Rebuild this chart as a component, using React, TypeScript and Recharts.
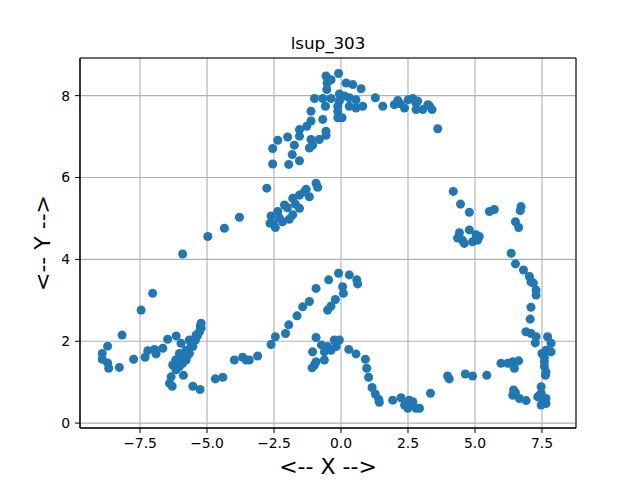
import { ScatterChart, Scatter, XAxis, YAxis, ZAxis, CartesianGrid, ReferenceArea } from 'recharts';

const title = 'lsup_303';
const xTicks = [-7.5, -5, -2.5, 0, 2.5, 5, 7.5];
const yTicks = [0, 2, 4, 6, 8];

// points, grouped by where they sit
const topCluster: [number, number][] = [
  [-0.56, 8.48], [-0.09, 8.54], [-0.52, 8.31], [-0.37, 8.39], [0.19, 8.31], [0.44, 8.27], [0.75, 8.17],
  [-0.53, 8.15], [-0.99, 7.93], [-0.68, 7.93], [-0.37, 7.93], [-0.06, 8.04], [0.13, 7.99], [0.31, 7.95],
  [0.56, 7.9], [-0.06, 7.87], [-0.12, 7.74], [0.31, 7.74], [0.81, 7.74], [0.56, 7.7], [-0.58, 7.74],
  [-0.12, 7.62], [-0.12, 7.46], [0.04, 7.46], [1.28, 7.95], [1.56, 7.74], [1.99, 7.78], [2.12, 7.88],
  [2.37, 7.7], [2.68, 7.93], [2.8, 7.82], [2.86, 7.87], [2.8, 7.66], [3.05, 7.66], [3.24, 7.78],
  [3.4, 7.66], [3.61, 7.19], [2.22, 7.8], [2.51, 7.9], [3.3, 7.75],
];

const upperArm: [number, number][] = [
  [-1.12, 7.62], [-0.68, 7.42], [-1.12, 7.38], [-1.28, 7.25], [-1.55, 7.17], [-1.55, 7.01], [-0.56, 7.13],
  [-0.56, 7.03], [-0.81, 6.93], [-1.12, 6.93], [-1.06, 6.79], [-1.18, 6.72], [-1.74, 6.79], [-1.99, 6.99],
  [-2.36, 6.91], [-2.55, 6.71], [-1.82, 6.56], [-1.55, 6.41], [-1.95, 6.32], [-2.55, 6.33], [-2.77, 5.74],
  [-0.93, 5.86], [-0.87, 5.76], [-1.3, 5.71], [-1.18, 5.53], [-1.55, 5.57], [-1.8, 5.49], [-2.11, 5.33],
  [-1.55, 5.25], [-1.8, 5.09], [-2.36, 5.17], [-2.61, 5.06], [-1.93, 4.98], [-2.18, 4.92], [-2.65, 4.88],
  [-2.45, 4.78], [-2.0, 5.26], [-1.7, 5.35], [-1.37, 5.65], [-2.3, 5.01], [-2.52, 4.87],
];

const leftDiagonal: [number, number][] = [
  [-3.79, 5.03], [-4.35, 4.76], [-4.97, 4.56], [-5.91, 4.13], [-7.03, 3.17], [-7.46, 2.76],
];

const lowerLeft: [number, number][] = [
  [-8.17, 2.15], [-8.71, 1.88], [-8.91, 1.7], [-8.91, 1.56], [-8.71, 1.47], [-8.67, 1.34], [-8.27, 1.36],
  [-7.74, 1.56], [-7.31, 1.61], [-7.21, 1.77], [-6.96, 1.8], [-6.9, 1.69], [-6.65, 1.83], [-6.47, 2.05],
  [-6.15, 2.13], [-5.97, 1.95], [-5.66, 2.03], [-5.41, 2.15], [-5.22, 2.44], [-5.22, 2.32], [-5.28, 2.23],
  [-5.53, 1.87], [-5.66, 1.7], [-5.78, 1.54], [-5.91, 1.46], [-6.03, 1.38], [-6.16, 1.3], [-6.28, 1.42],
  [-6.34, 1.13], [-6.4, 0.97], [-6.3, 0.9], [-5.88, 1.17], [-5.53, 0.9], [-5.26, 0.82], [-6.03, 1.7],
  [-5.78, 1.78], [-4.69, 1.08], [-4.41, 1.12], [-3.98, 1.54], [-3.67, 1.61], [-3.54, 1.54],
  [-5.43, 2.03], [-5.36, 2.13], [-5.25, 2.37], [-5.72, 1.66], [-5.91, 1.59], [-6.17, 1.54], [-5.59, 1.93],
];

const lowerArc: [number, number][] = [
  [-3.42, 1.54], [-3.11, 1.64], [-2.61, 1.92], [-2.45, 2.11], [-2.07, 2.19], [-1.95, 2.4], [-1.64, 2.62],
  [-1.43, 2.84], [-1.18, 2.97], [-0.93, 3.29], [-0.46, 3.5], [-0.09, 3.66], [0.31, 3.62], [0.59, 3.5],
  [0.62, 3.4], [0.06, 3.33], [0.09, 3.17], [-0.21, 3.02], [-0.37, 2.86], [-0.5, 2.76],
];

const middleDip: [number, number][] = [
  [-0.93, 2.09], [-1.06, 1.74], [-0.62, 1.74], [-0.5, 1.87], [-0.25, 2.03], [-0.18, 1.87], [-0.37, 1.78],
  [-0.93, 1.5], [-1.08, 1.35], [-0.62, 1.54], [0.29, 1.8], [0.56, 1.69], [0.91, 1.56], [0.96, 1.34],
  [1.03, 1.12], [1.16, 0.87], [1.28, 0.71], [1.41, 0.58], [1.93, 0.56], [2.24, 0.62], [2.37, 0.44],
  [2.49, 0.36], [2.68, 0.52], [2.8, 0.36], [2.55, 0.56], [2.68, 0.44], [2.93, 0.36], [3.34, 0.73],
  [-0.73, 1.91], [-0.06, 2.03], [-0.99, 1.42], [1.43, 0.51],
];

const rightLower: [number, number][] = [
  [3.98, 1.15], [4.04, 1.08], [4.64, 1.2], [4.91, 1.15], [5.44, 1.17], [5.97, 1.46], [6.22, 1.46],
  [6.41, 1.5], [6.63, 1.52], [6.47, 1.34], [6.44, 0.81], [6.41, 0.68], [6.66, 0.6], [6.91, 0.55],
  [7.47, 0.89], [7.47, 0.73], [7.34, 0.64], [7.53, 0.56], [7.65, 0.6], [7.47, 0.44], [7.65, 0.48],
  [7.59, 1.5], [7.59, 1.38], [7.65, 1.25], [7.63, 1.17], [7.5, 1.7], [7.65, 1.78], [7.84, 1.74],
  [7.84, 1.95], [7.71, 2.11], [7.25, 1.96], [7.28, 2.11], [7.09, 2.19], [6.9, 2.23], [7.06, 2.54],
  [7.09, 2.83], [7.59, 1.61], [7.41, 0.68], [6.51, 0.74],
];

const rightMiddle: [number, number][] = [
  [4.19, 5.66], [4.46, 5.35], [4.79, 5.15], [5.54, 5.17], [5.72, 5.22], [6.72, 5.29], [6.69, 5.19],
  [6.51, 4.92], [6.63, 4.78], [4.42, 4.65], [4.53, 4.47], [4.79, 4.72], [5.04, 4.6], [5.16, 4.56],
  [4.91, 4.43], [4.35, 4.52], [4.6, 4.39], [5.1, 4.47], [6.35, 4.15], [6.51, 3.89], [6.81, 3.74],
  [7.03, 3.58], [7.09, 3.45], [7.18, 3.42], [7.28, 3.25], [7.28, 3.13],
];

const points = [
  ...topCluster, ...upperArm, ...leftDiagonal, ...lowerLeft,
  ...lowerArc, ...middleDip, ...rightLower, ...rightMiddle,
].map(([x, y]) => ({ x, y }));

const xDomain: [number, number] = [-9.74, 8.77];
const yDomain: [number, number] = [-0.12, 8.92];

const fmtX = (v: number) => (v < 0 ? '\u2212' : '') + Math.abs(v).toFixed(1);
const fmtY = (v: number) => (v < 0 ? '\u2212' : '') + Math.abs(v).toFixed(0);

const tickStyle = { fontSize: 13.9, fill: '#000', fontFamily: 'DejaVu Sans' };

export default function App() {
  return (
    <div style={{ position: 'absolute', left: 0, top: 0, width: 640, height: 480, background: '#fff' }}>
      <ScatterChart
        width={640}
        height={480}
        margin={{ top: 58, right: 64, bottom: 22, left: 0 }}
        style={{ fontFamily: 'DejaVu Sans' }}
      >
        <CartesianGrid stroke="#b0b0b0" strokeWidth={1.1} />
        <XAxis
          type="number"
          dataKey="x"
          domain={xDomain}
          ticks={xTicks}
          allowDataOverflow
          height={30}
          tickFormatter={fmtX}
          tick={tickStyle}
          tickSize={5}
          tickMargin={5}
          stroke="#000"
          label={{ value: '<-- X -->', position: 'bottom', offset: 0, fontSize: 22, fill: '#000' }}
        />
        <YAxis
          type="number"
          dataKey="y"
          domain={yDomain}
          ticks={yTicks}
          allowDataOverflow
          width={80}
          tickFormatter={fmtY}
          tick={tickStyle}
          tickSize={5}
          tickMargin={5}
          stroke="#000"
          label={{ value: '<-- Y -->', angle: -90, position: 'center', dx: 2, fontSize: 22, fill: '#000' }}
        />
        <ZAxis range={[80, 80]} />
        <Scatter data={points} fill="#1f77b4" isAnimationActive={false} />
        <ReferenceArea
          x1={xDomain[0]}
          x2={xDomain[1]}
          y1={yDomain[0]}
          y2={yDomain[1]}
          fill="none"
          stroke="#000"
          strokeWidth={1}
          label={{ value: title, position: 'top', offset: 9, fontSize: 16.7, fill: '#000' }}
        />
      </ScatterChart>
    </div>
  );
}
